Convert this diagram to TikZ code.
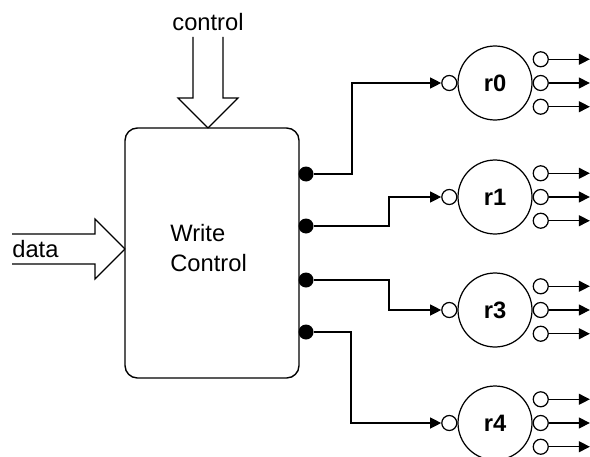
\documentclass[tikz,border=0pt]{standalone}
\usepackage{fontspec}
\setmainfont{Liberation Sans}
\usepackage{tikz}
\usetikzlibrary{arrows.meta, positioning}

\begin{document}
\begin{tikzpicture}[
  x=0.02cm, y=-0.02cm,
  node distance=0.15cm,
  lbl/.style={inner sep=0pt, font=\fontsize{13.5}{17}\selectfont},
  block/.style={rectangle, rounded corners=7pt, draw, line width=0.8pt,
                minimum width=3.48cm, minimum height=5cm},
  reg/.style={circle, draw, line width=0.7pt, minimum size=1.48cm, inner sep=0pt,
              font=\fontsize{13.5}{17}\selectfont\bfseries},
  port/.style={circle, draw, line width=0.7pt, minimum size=0.3cm, inner sep=0pt},
  tap/.style={circle, fill=black, minimum size=0.3cm, inner sep=0pt},
  arrow/.style={-{Triangle[length=6.3pt,width=6.3pt]}, line width=0.7pt},
  fat/.style={line width=0.7pt, line join=miter},
]
\clip (0,0) rectangle (590,456);

\node[block] (wc) at (212,253) {};
\node[lbl, align=left, anchor=west] (wct) at (170,248) {Write\\Control};

% block arrows
\node[lbl] (ctl) at (208,22) {control};
\coordinate (ctip) at (208,128);
\draw[fat] (ctip) -- ++(30,-30) -- ++(-15,0) -- ++(0,-61);
\draw[fat] (ctip) -- ++(-30,-30) -- ++(15,0) -- ++(0,-61);

\node[lbl, anchor=west] (dat) at (12,249) {data};
\coordinate (dtip) at (125,249);
\draw[fat] (dtip) -- ++(-30,-30) -- ++(0,15) -- ++(-83,0);
\draw[fat] (dtip) -- ++(-30,30) -- ++(0,-15) -- ++(-83,0);

\node[tap] (d0) at (306,174) {};
\node[tap] (d1) at (306,226) {};
\node[tap] (d2) at (306,280) {};
\node[tap] (d3) at (306,332) {};

% registers
\node[reg] (r0) at (495,83)  {r0};
\node[reg] (r1) at (495,197) {r1};
\node[reg] (r3) at (495,310) {r3};
\node[reg] (r4) at (495,423) {r4};

\node[port, left=0pt of r0] (r0i) {};
\node[port, left=0pt of r1] (r1i) {};
\node[port, left=0pt of r3] (r3i) {};
\node[port, left=0pt of r4] (r4i) {};

\node[port, right=0pt of r0] (r0o1) {};
\node[port, above=of r0o1] (r0o0) {};
\node[port, below=of r0o1] (r0o2) {};
\node[port, right=0pt of r1] (r1o1) {};
\node[port, above=of r1o1] (r1o0) {};
\node[port, below=of r1o1] (r1o2) {};
\node[port, right=0pt of r3] (r3o1) {};
\node[port, above=of r3o1] (r3o0) {};
\node[port, below=of r3o1] (r3o2) {};
\node[port, right=0pt of r4] (r4o1) {};
\node[port, above=of r4o1] (r4o0) {};
\node[port, below=of r4o1] (r4o2) {};

\draw[arrow] (d0) -- ++(46,0) |- (r0i);
\draw[arrow] (d1) -- ++(83,0) |- (r1i);
\draw[arrow] (d2) -- ++(83,0) |- (r3i);
\draw[arrow] (d3) -- ++(45,0) |- (r4i);

\draw[arrow] (r0o0.east) -- ++(41,0); \draw[arrow] (r0o1.east) -- ++(41,0); \draw[arrow] (r0o2.east) -- ++(41,0);
\draw[arrow] (r1o0.east) -- ++(41,0); \draw[arrow] (r1o1.east) -- ++(41,0); \draw[arrow] (r1o2.east) -- ++(41,0);
\draw[arrow] (r3o0.east) -- ++(41,0); \draw[arrow] (r3o1.east) -- ++(41,0); \draw[arrow] (r3o2.east) -- ++(41,0);
\draw[arrow] (r4o0.east) -- ++(41,0); \draw[arrow] (r4o1.east) -- ++(41,0); \draw[arrow] (r4o2.east) -- ++(41,0);
\end{tikzpicture}
\end{document}
